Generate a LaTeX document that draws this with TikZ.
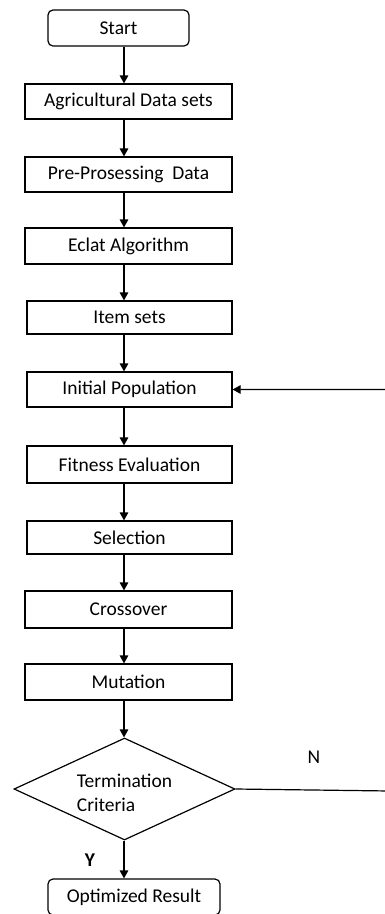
\documentclass[tikz,border=0pt]{standalone}
\usepackage{fontspec}
\setmainfont{Carlito}
\usetikzlibrary{shapes.geometric,arrows.meta}

\begin{document}
\begin{tikzpicture}[x=1pt,y=1pt,line width=1.2pt,>={Triangle[length=8pt,width=8.5pt]},
  every node/.style={font=\fontsize{19.5}{24}\selectfont},
  box/.style={draw,rectangle,inner sep=0pt,minimum height=35pt},
  term/.style={box,rounded corners=5pt},
  decision/.style={draw,diamond,inner sep=0pt,minimum width=221pt,minimum height=102pt,align=left}]
\useasboundingbox (0,0) rectangle (384,-914);
\coordinate (axis) at (124,0);
%boxes
\node[term,minimum width=141pt,minimum height=36pt] (start) at (118.5,-28) {Start};
\node[box,minimum width=207pt] (data) at (128.5,-101.5) {Agricultural Data sets};
\node[box,minimum width=207pt] (prep) at (128.5,-174.5) {Pre-Prosessing~~Data};
\node[box,minimum width=207pt,minimum height=36pt] (eclat) at (128.5,-246) {Eclat Algorithm};
\node[box,minimum width=205pt,minimum height=33pt] (items) at (129.5,-317.5) {Item sets};
\node[box,minimum width=205pt] (init) at (129.5,-389.5) {Initial Population};
\node[box,minimum width=205pt,minimum height=37pt] (fitness) at (129.5,-464.5) {Fitness Evaluation};
\node[box,minimum width=205pt,minimum height=33pt] (select) at (129.5,-537.5) {Selection};
\node[box,minimum width=207pt,minimum height=37pt] (cross) at (128.5,-609.5) {Crossover};
\node[box,minimum width=207pt,minimum height=36pt] (mutate) at (128.5,-682) {Mutation};
\node[decision] (stop) at (124.5,-789) {};
\node[anchor=west,align=left] (stoptext) at (73,-793) {Termination\\Criteria};
\node[term,minimum width=172pt,minimum height=36pt] (result) at (134,-897) {Optimized Result};
%labels
\node (no) at (314,-757) {N};
\node[font=\fontsize{19.5}{24}\selectfont\bfseries] (yes) at (90,-860) {Y};
%arrows
\draw[->] (start.south -| axis) -- (data.north -| axis);
\draw[->] (data.south -| axis) -- (prep.north -| axis);
\draw[->] (prep.south -| axis) -- (eclat.north -| axis);
\draw[->] (eclat.south -| axis) -- (items.north -| axis);
\draw[->] (items.south -| axis) -- (init.north -| axis);
\draw[->] (init.south -| axis) -- (fitness.north -| axis);
\draw[->] (fitness.south -| axis) -- (select.north -| axis);
\draw[->] (select.south -| axis) -- (cross.north -| axis);
\draw[->] (cross.south -| axis) -- (mutate.north -| axis);
\draw[->] (mutate.south -| axis) -- (stop.north -| axis);
\draw[->] (stop.south -| axis) -- (result.north -| axis);
%loop back
\coordinate (back) at (390,-791);
\draw[->] (stop.east) -- (back) |- (init.east);
\end{tikzpicture}
\end{document}
